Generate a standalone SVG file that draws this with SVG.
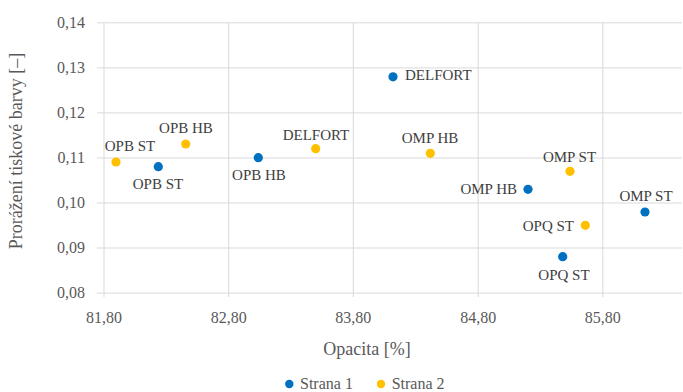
<svg xmlns="http://www.w3.org/2000/svg" width="683" height="392" viewBox="0 0 683 392">
<style>
.grid{stroke:#D9D9D9;stroke-width:1;fill:none}
text{font-family:'Liberation Serif','Times New Roman','DejaVu Serif',serif}
.tick{font-size:16px;fill:#595959}
.ytick{text-anchor:end}
.xtick{text-anchor:middle}
.title{font-size:18px;fill:#595959;text-anchor:middle}
.lbl{font-size:15px;fill:#404040}
.mid{text-anchor:middle}
.end{text-anchor:end}
.s1{fill:#0070C0}
.s2{fill:#FFC000}
.leg{font-size:16px;fill:#595959}
</style>
<rect width="683" height="392" fill="#FFFFFF"/>
<g id="grid">
<path class="grid" d="M97 22.8H682M97 67.9H682M97 112.9H682M97 158H682M97 203H682M97 248H682M97 293.1H682"/>
<path class="grid" d="M104 22.8V297M228.7 22.8V297M353.3 22.8V297M478.2 22.8V297M602.8 22.8V297"/>
</g>
<g id="y-axis">
<text class="tick ytick" x="85" y="28">0,14</text>
<text class="tick ytick" x="85" y="73">0,13</text>
<text class="tick ytick" x="85" y="118">0,12</text>
<text class="tick ytick" x="85" y="163">0,11</text>
<text class="tick ytick" x="85" y="208">0,10</text>
<text class="tick ytick" x="85" y="253">0,09</text>
<text class="tick ytick" x="85" y="298">0,08</text>
<text class="title" transform="translate(22,151) rotate(-90)">Prorážení tiskové barvy [–]</text>
</g>
<g id="x-axis">
<text class="tick xtick" x="104" y="323">81,80</text>
<text class="tick xtick" x="228.7" y="323">82,80</text>
<text class="tick xtick" x="353.3" y="323">83,80</text>
<text class="tick xtick" x="478.2" y="323">84,80</text>
<text class="tick xtick" x="602.8" y="323">85,80</text>
<text class="title" x="367" y="355">Opacita [%]</text>
</g>
<g id="strana1">
<g id="s1-delfort"><circle class="s1" cx="393" cy="76.8" r="4.6"/><text class="lbl" x="405" y="80">DELFORT</text></g>
<g id="s1-omp-hb"><circle class="s1" cx="528" cy="189.3" r="4.6"/><text class="lbl end" x="517" y="194">OMP HB</text></g>
<g id="s1-omp-st"><circle class="s1" cx="645" cy="212" r="4.6"/><text class="lbl mid" x="646" y="201">OMP ST</text></g>
<g id="s1-opq-st"><circle class="s1" cx="562.7" cy="256.7" r="4.6"/><text class="lbl mid" x="564" y="280">OPQ ST</text></g>
<g id="s1-opb-hb"><circle class="s1" cx="258.3" cy="157.7" r="4.6"/><text class="lbl mid" x="259" y="180">OPB HB</text></g>
<g id="s1-opb-st"><circle class="s1" cx="158.3" cy="166.7" r="4.6"/><text class="lbl mid" x="158" y="189">OPB ST</text></g>
</g>
<g id="strana2">
<g id="s2-delfort"><circle class="s2" cx="315.7" cy="148.7" r="4.6"/><text class="lbl mid" x="316" y="140">DELFORT</text></g>
<g id="s2-omp-hb"><circle class="s2" cx="430.3" cy="153.3" r="4.6"/><text class="lbl mid" x="430" y="143">OMP HB</text></g>
<g id="s2-omp-st"><circle class="s2" cx="570" cy="171.3" r="4.6"/><text class="lbl mid" x="569.5" y="161.5">OMP ST</text></g>
<g id="s2-opq-st"><circle class="s2" cx="585.3" cy="225.3" r="4.6"/><text class="lbl end" x="574" y="230.5">OPQ ST</text></g>
<g id="s2-opb-hb"><circle class="s2" cx="185.7" cy="144" r="4.6"/><text class="lbl mid" x="186" y="132.5">OPB HB</text></g>
<g id="s2-opb-st"><circle class="s2" cx="116" cy="162" r="4.6"/><text class="lbl mid" x="130" y="151">OPB ST</text></g>
</g>
<g id="legend">
<circle class="s1" cx="289.3" cy="384" r="4.2"/>
<text class="leg" x="300" y="388.5">Strana 1</text>
<circle class="s2" cx="381" cy="384" r="4.2"/>
<text class="leg" x="391.7" y="388.5">Strana 2</text>
</g>
</svg>
